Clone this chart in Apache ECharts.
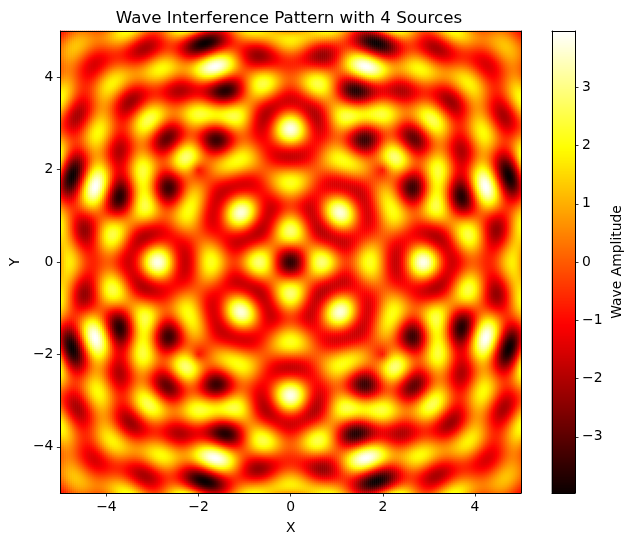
<!DOCTYPE html>
<html>
<head>
<meta charset="utf-8">
<script src="https://cdn.jsdelivr.net/npm/echarts@6/dist/echarts.min.js"></script>
<style>
html, body { margin: 0; padding: 0; background: #fff; }
#chart { width: 632px; height: 540px; }
</style>
</head>
<body>
<div id="chart"></div>
<script>
// wave sources (the field is symmetric about them)
var sourceX = [-2, 2, -2, 2];
var sourceY = [-2, -2, 2, 2];
var wavelength = 1.0;
var xRange = [-5, 5];
var yRange = [-5, 5];
var xTicks = [-4, -2, 0, 2, 4];
var yTicks = [-4, -2, 0, 2, 4];
var barTicks = [-3, -2, -1, 0, 1, 2, 3];
var cellsPerSide = 231;
var barSteps = 462;

var FONT = 'DejaVu Sans';

function minus(v) {
    return String(v).replace('-', '\u2212');
}

// matplotlib "hot" colormap
function hot(t) {
    var r = t < 0.365079 ? 0.0416 + (1 - 0.0416) * t / 0.365079 : 1;
    var g = Math.max(0, Math.min(1, (t - 0.365079) / (0.746032 - 0.365079)));
    var b = Math.max(0, Math.min(1, (t - 0.746032) / (1 - 0.746032)));
    return 'rgb(' + Math.round(r * 255) + ',' + Math.round(g * 255) + ',' + Math.round(b * 255) + ')';
}
var hotColors = [];
for (var c = 0; c <= 64; c++) {
    hotColors.push(hot(c / 64));
}

// amplitude field = sum of the sources' waves, sampled at cell centres
var k = 2 * Math.PI / wavelength;
var dx = (xRange[1] - xRange[0]) / cellsPerSide;
var dy = (yRange[1] - yRange[0]) / cellsPerSide;
var xCats = [], yCats = [], cells = [];
var zMin = Infinity, zMax = -Infinity;
for (var i = 0; i < cellsPerSide; i++) {
    xCats.push((xRange[0] + (i + 0.5) * dx).toFixed(3));
    yCats.push((yRange[0] + (i + 0.5) * dy).toFixed(3));
}
for (var j = 0; j < cellsPerSide; j++) {
    var y = yRange[0] + (j + 0.5) * dy;
    for (var i2 = 0; i2 < cellsPerSide; i2++) {
        var x = xRange[0] + (i2 + 0.5) * dx;
        var z = 0;
        for (var s = 0; s < sourceX.length; s++) {
            z += Math.sin(k * Math.sqrt((x - sourceX[s]) * (x - sourceX[s]) + (y - sourceY[s]) * (y - sourceY[s])));
        }
        if (z < zMin) zMin = z;
        if (z > zMax) zMax = z;
        cells.push([i2, j, z]);
    }
}

// colorbar strip
var barCats = [], barCells = [];
for (var b = 0; b < barSteps; b++) {
    barCats.push(String(b));
    barCells.push([0, b, zMin + (b + 0.5) * (zMax - zMin) / barSteps]);
}

var lineBox = { show: true, onZero: false, lineStyle: { color: '#000', width: 1 } };
var tickStyle = { color: '#000', width: 0.8 };
var labelStyle = { color: '#000', fontFamily: FONT, fontSize: 13.9, margin: 7 };

function frameAxis(grid, pos, data) {
    return {
        gridIndex: grid, type: 'category', data: data, position: pos, z: 5,
        axisLine: lineBox, axisTick: { show: false }, axisLabel: { show: false },
        splitLine: { show: false }
    };
}

var option = {
    animation: false,
    backgroundColor: '#fff',
    title: {
        text: 'Wave Interference Pattern with 4 Sources',
        left: 284, top: 5, textAlign: 'center',
        textStyle: { fontFamily: FONT, fontSize: 16.7, fontWeight: 'normal', color: '#000' }
    },
    grid: [
        { left: 59, top: 31, width: 462, height: 462 },
        { left: 552, top: 31, width: 23, height: 462 }
    ],
    visualMap: {
        type: 'continuous', show: false, dimension: 2,
        min: zMin, max: zMax, seriesIndex: [0, 1],
        inRange: { color: hotColors }
    },
    xAxis: [
        frameAxis(0, 'top', xCats),
        {
            gridIndex: 0, type: 'value', min: xRange[0], max: xRange[1], position: 'bottom', z: 5,
            axisLine: lineBox,
            axisTick: { show: true, length: 3.5, lineStyle: tickStyle, customValues: xTicks },
            axisLabel: Object.assign({ customValues: xTicks, formatter: minus }, labelStyle),
            splitLine: { show: false },
            name: 'X', nameLocation: 'middle', nameGap: 28,
            nameTextStyle: { fontFamily: FONT, fontSize: 13.9, color: '#000' }
        },
        frameAxis(1, 'bottom', ['0']),
        frameAxis(1, 'top', ['0'])
    ],
    yAxis: [
        frameAxis(0, 'right', yCats),
        {
            gridIndex: 0, type: 'value', min: yRange[0], max: yRange[1], position: 'left', z: 5,
            axisLine: lineBox,
            axisTick: { show: true, length: 3.5, lineStyle: tickStyle, customValues: yTicks },
            axisLabel: Object.assign({ customValues: yTicks, formatter: minus }, labelStyle),
            splitLine: { show: false },
            name: 'Y', nameLocation: 'middle', nameGap: 38,
            nameTextStyle: { fontFamily: FONT, fontSize: 13.9, color: '#000' }
        },
        frameAxis(1, 'left', barCats),
        {
            gridIndex: 1, type: 'value', min: zMin, max: zMax, position: 'right', z: 5,
            axisLine: lineBox,
            axisTick: { show: true, length: 3.5, lineStyle: tickStyle, customValues: barTicks },
            axisLabel: Object.assign({ customValues: barTicks, formatter: minus }, labelStyle),
            splitLine: { show: false },
            name: 'Wave Amplitude', nameLocation: 'middle', nameGap: 35,
            nameTextStyle: { fontFamily: FONT, fontSize: 13.9, color: '#000' }
        }
    ],
    series: [
        {
            type: 'heatmap', xAxisIndex: 0, yAxisIndex: 0,
            data: cells, progressive: 0, silent: true,
            emphasis: { disabled: true }
        },
        {
            type: 'heatmap', xAxisIndex: 2, yAxisIndex: 2,
            data: barCells, progressive: 0, silent: true,
            emphasis: { disabled: true }
        }
    ]
};

var chart = echarts.init(document.getElementById('chart'));
chart.setOption(option);
</script>
</body>
</html>
